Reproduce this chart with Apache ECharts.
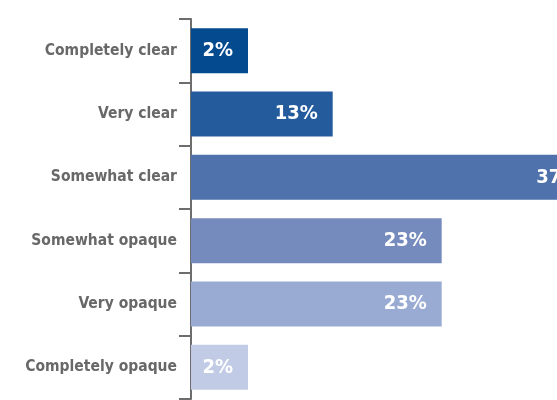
<!DOCTYPE html>
<html>
<head>
<meta charset="utf-8">
<script src="https://cdn.jsdelivr.net/npm/echarts@6/dist/echarts.min.js"></script>
<style>
  html, body { margin: 0; padding: 0; background: #ffffff; }
  #chart { width: 557px; height: 400px; }
</style>
</head>
<body>
<div id="chart"></div>
<script>
// Survey answers, top to bottom
const categories = [
  'Completely clear',
  'Very clear',
  'Somewhat clear',
  'Somewhat opaque',
  'Very opaque',
  'Completely opaque'
];
// Share of respondents, percent
const shares = [2, 13, 37, 23, 23, 2];

// Blue ramp from dark (clear) to pale (opaque)
const palette = ['#044a8f', '#245b9d', '#4f72ac', '#768bbd', '#9aabd3', '#c2cbe5'];

const condensed = '"DejaVu Sans Condensed", "Liberation Sans Narrow", "Roboto Condensed", Roboto, sans-serif';

const chart = echarts.init(document.getElementById('chart'), null, { renderer: 'canvas' });

chart.setOption({
  animation: false,
  backgroundColor: '#ffffff',
  // the longest bar runs past the right edge of the page
  grid: { left: 191, top: 19, bottom: 1, right: -70, outerBoundsMode: 'none', containLabel: false },
  xAxis: {
    type: 'value',
    min: 0,
    max: 40,
    show: false
  },
  yAxis: {
    type: 'category',
    inverse: true,
    data: categories,
    axisLine: { show: true, lineStyle: { color: '#6d6d6d', width: 2 } },
    axisTick: { show: true, length: 12, lineStyle: { color: '#6d6d6d', width: 2 } },
    axisLabel: {
      margin: 14,
      color: '#686868',
      fontFamily: condensed,
      fontWeight: 'bold',
      fontSize: 15.5
    },
    splitLine: { show: false }
  },
  series: [{
    type: 'bar',
    barWidth: 45,
    barMinHeight: 57,
    data: shares.map((v, i) => ({ value: v, itemStyle: { color: palette[i] } })),
    label: {
      show: true,
      position: 'insideRight',
      distance: 15,
      color: '#ffffff',
      fontFamily: condensed,
      fontWeight: 'bold',
      fontSize: 20,
      formatter: p => p.value + '%'
    }
  }]
});
</script>
</body>
</html>
